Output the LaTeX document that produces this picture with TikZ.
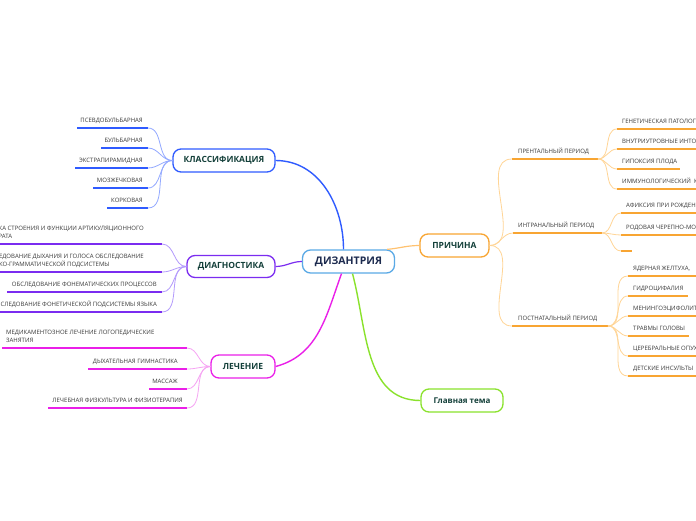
\documentclass[tikz,border=0pt]{standalone}
\usepackage{fontspec}
\setmainfont{Open Sans}
\definecolor{mainborder}{HTML}{5AA9E6}
\definecolor{maintext}{HTML}{1D2B4F}
\definecolor{topictext}{HTML}{14403A}
\definecolor{leafgray}{HTML}{3A3A3A}
\definecolor{blueM}{HTML}{2F5BFF}
\definecolor{blueL}{HTML}{93A9FF}
\definecolor{purpM}{HTML}{7B2CF0}
\definecolor{purpL}{HTML}{B39AFC}
\definecolor{magM}{HTML}{EA1FE8}
\definecolor{magL}{HTML}{F6A3F3}
\definecolor{oraM}{HTML}{F8A532}
\definecolor{oraC}{HTML}{FFC270}
\definecolor{oraL}{HTML}{FFD596}
\definecolor{limeM}{HTML}{8AE22C}
\tikzset{
  topic/.style={draw, rounded corners=8pt, line width=1.3pt, fill=white, text=topictext,
    font=\fontsize{8.5}{10}\selectfont\bfseries, minimum height=23pt, inner sep=2pt},
  leaf/.style={font=\fontsize{6}{8}\selectfont, text=leafgray, inner sep=0pt, align=left},
  ulblue/.style={draw=blueM, line width=1.8pt},
  ulpurp/.style={draw=purpM, line width=1.8pt},
  ulmag/.style={draw=magM, line width=1.8pt},
  ulora/.style={draw=oraM, line width=1.8pt},
  cblue/.style={draw=blueL, line width=0.8pt},
  cpurp/.style={draw=purpL, line width=0.8pt},
  cmag/.style={draw=magL, line width=0.8pt},
  cora/.style={draw=oraL, line width=0.8pt},
}
% #1 name, #2 x1, #3 x2, #4 line y, #5 text x, #6 text y, #7 anchor, #8 underline style, #9 text
\newcommand{\mmleaf}[9]{%
  \coordinate (#1-l) at (#2,#4);
  \coordinate (#1-r) at (#3,#4);
  \draw[#8] (#1-l) -- (#1-r);
  \node[leaf, anchor=#7] (#1) at (#5,#6) {#9};
}
\begin{document}
\begin{tikzpicture}[x=1pt,y=-1pt]
\clip (0,0) rectangle (696,520);
\fill[white] (0,0) rectangle (696,520);

% ---------- topics ----------
\node[topic, draw=mainborder, text=maintext, font=\fontsize{10.5}{12}\selectfont\bfseries,
      minimum width=92pt] (main) at (348.5,261.5) {ДИЗАНТРИЯ};
\node[topic, draw=blueM, minimum width=102pt] (klass) at (224,160.5) {КЛАССИФИКАЦИЯ};
\node[topic, draw=purpM, minimum width=88pt, minimum height=22pt] (diag) at (231,266.5) {ДИАГНОСТИКА};
\node[topic, draw=magM, minimum width=64pt] (lech) at (243,366.5) {ЛЕЧЕНИЕ};
\node[topic, draw=oraM, minimum width=69pt] (prich) at (454.5,245.5) {ПРИЧИНА};
\node[topic, draw=limeM, font=\fontsize{8}{10}\selectfont\bfseries, minimum width=82pt] (gt) at (462,400.5) {Главная тема};

% ---------- main connectors ----------
\draw[blueM, line width=1.4pt] ([xshift=-5pt]main.north) to[out=90,in=0] (klass.east);
\draw[purpM, line width=1.2pt] (main.west) to[out=180,in=0] (diag.east);
\draw[magM, line width=1.4pt] ([xshift=-7pt]main.south) to[out=-110,in=15] (lech.east);
\draw[limeM, line width=1.4pt] ([xshift=4pt]main.south) to[out=-75,in=180] (gt.west);
\draw[oraC, line width=1.2pt] ([xshift=-8pt]main.north east) to[out=5,in=180] (prich.west);

% ---------- classification ----------
\mmleaf{k1}{77}{148}{128}{143}{122.5}{base east}{ulblue}{ПСЕВДОБУЛЬБАРНАЯ}
\mmleaf{k2}{101}{148}{148}{143}{142.5}{base east}{ulblue}{БУЛЬБАРНАЯ}
\mmleaf{k3}{75}{148}{168}{143}{162.5}{base east}{ulblue}{ЭКСТРАПИРАМИДНАЯ}
\mmleaf{k4}{93}{148}{188}{143}{182.5}{base east}{ulblue}{МОЗЖЕЧКОВАЯ}
\mmleaf{k5}{107}{148}{208}{143}{202.5}{base east}{ulblue}{КОРКОВАЯ}
\foreach \n in {k1,k2,k3,k4,k5}{\draw[cblue] (\n-r) to[out=0,in=180] (klass.west);}

% ---------- diagnostics ----------
\mmleaf{d1}{-2}{162}{244}{144}{238.5}{base east}{ulpurp}{КА СТРОЕНИЯ И ФУНКЦИИ АРТИКУЛЯЦИОННОГО\\РАТА}
\mmleaf{d2}{-2}{162}{272}{144}{266.5}{base east}{ulpurp}{ЕДОВАНИЕ ДЫХАНИЯ И ГОЛОСА ОБСЛЕДОВАНИЕ\\КО-ГРАММАТИЧЕСКОЙ ПОДСИСТЕМЫ}
\mmleaf{d3}{7}{162}{292}{157}{286.5}{base east}{ulpurp}{ОБСЛЕДОВАНИЕ ФОНЕМАТИЧЕСКИХ ПРОЦЕССОВ}
\mmleaf{d4}{-2}{162}{312}{157}{306.5}{base east}{ulpurp}{СЛЕДОВАНИЕ ФОНЕТИЧЕСКОЙ ПОДСИСТЕМЫ ЯЗЫКА}
\foreach \n in {d1,d2,d3,d4}{\draw[cpurp] (\n-r) to[out=0,in=180] (diag.west);}

% ---------- treatment ----------
\mmleaf{l1}{2}{187}{348}{6}{342.5}{base west}{ulmag}{МЕДИКАМЕНТОЗНОЕ ЛЕЧЕНИЕ ЛОГОПЕДИЧЕСКИЕ\\ЗАНЯТИЯ}
\mmleaf{l2}{88}{187}{369}{178}{363.5}{base east}{ulmag}{ДЫХАТЕЛЬНАЯ ГИМНАСТИКА}
\mmleaf{l3}{149}{187}{389}{178}{383.5}{base east}{ulmag}{МАССАЖ}
\mmleaf{l4}{48}{187}{408}{183}{402.5}{base east}{ulmag}{ЛЕЧЕБНАЯ ФИЗКУЛЬТУРА И ФИЗИОТЕРАПИЯ}
\foreach \n in {l1,l2,l3,l4}{\draw[cmag] (\n-r) to[out=0,in=180] (lech.west);}

% ---------- cause: periods ----------
\mmleaf{p1}{512}{598}{159}{518}{153.5}{base west}{ulora}{ПРЕНТАЛЬНЫЙ ПЕРИОД}
\mmleaf{p2}{513}{602}{233}{518}{227.5}{base west}{ulora}{ИНТРАНАЛЬНЫЙ ПЕРИОД}
\mmleaf{p3}{512}{608}{326}{518}{320.5}{base west}{ulora}{ПОСТНАТАЛЬНЫЙ ПЕРИОД}
\foreach \n in {p1,p2,p3}{\draw[cora] (prich.east) to[out=0,in=180] (\n-l);}

% prenatal
\mmleaf{q1}{617}{700}{129}{622}{123.5}{base west}{ulora}{ГЕНЕТИЧЕСКАЯ ПАТОЛОГИЯ}
\mmleaf{q2}{617}{700}{149}{622}{143.5}{base west}{ulora}{ВНУТРИУТРОВНЫЕ ИНТОКСИКАЦИИ}
\mmleaf{q3}{617}{680}{169}{622}{163.5}{base west}{ulora}{ГИПОКСИЯ ПЛОДА}
\mmleaf{q4}{617}{700}{189}{622}{183.5}{base west}{ulora}{ИММУНОЛОГИЧЕСКИЙ\ \ КОНФЛИКТ}
\foreach \n in {q1,q2,q3,q4}{\draw[cora] (p1-r) to[out=0,in=180] (\n-l);}

% intranatal
\mmleaf{r1}{621}{700}{213}{626}{207.5}{base west}{ulora}{АФИКСИЯ ПРИ РОЖДЕНИИ}
\mmleaf{r2}{621}{700}{235}{626}{229.5}{base west}{ulora}{РОДОВАЯ ЧЕРЕПНО-МОЗГОВАЯ ТРАВМА}
\coordinate (r3-l) at (621,251);
\coordinate (r3-r) at (632,251);
\draw[ulora] (r3-l) -- (r3-r);
\foreach \n in {r1,r2,r3}{\draw[cora] (p2-r) to[out=0,in=180] (\n-l);}

% postnatal
\mmleaf{s1}{628}{700}{276}{633}{270.5}{base west}{ulora}{ЯДЕРНАЯ ЖЕЛТУХА,}
\mmleaf{s2}{628}{688}{296}{633}{290.5}{base west}{ulora}{ГИДРОЦИФАЛИЯ}
\mmleaf{s3}{628}{700}{316}{633}{310.5}{base west}{ulora}{МЕНИНГОЭЦИФОЛИТ}
\mmleaf{s4}{628}{689}{336}{633}{330.5}{base west}{ulora}{ТРАВМЫ ГОЛОВЫ}
\mmleaf{s5}{628}{700}{356}{633}{350.5}{base west}{ulora}{ЦЕРЕБРАЛЬНЫЕ ОПУХОЛИ}
\mmleaf{s6}{628}{700}{376}{633}{370.5}{base west}{ulora}{ДЕТСКИЕ ИНСУЛЬТЫ}
\foreach \n in {s1,s2,s3,s4,s5,s6}{\draw[cora] (p3-r) to[out=0,in=180] (\n-l);}
\end{tikzpicture}
\end{document}
